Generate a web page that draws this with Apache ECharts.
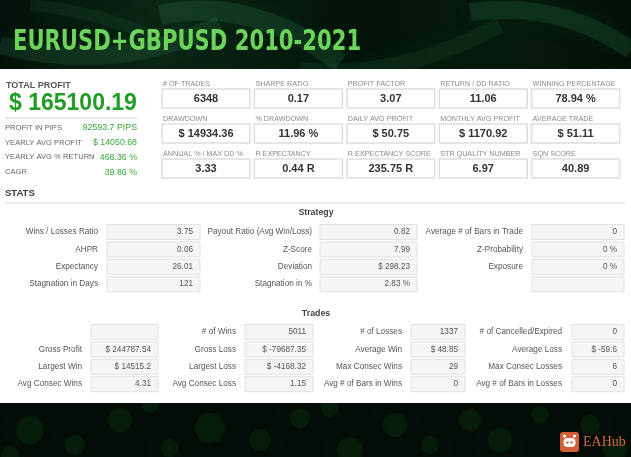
<!DOCTYPE html>
<html><head><meta charset="utf-8">
<script src="https://cdn.jsdelivr.net/npm/echarts@6/dist/echarts.min.js"></script>
<style>html,body{margin:0;padding:0;background:#03100a;}#c{width:631px;height:457px;}</style>
</head><body><div id="c"></div>
<script>
const titleText = 'EURUSD+GBPUSD 2010-2021';
const totalProfitLabel = 'TOTAL PROFIT';
const totalProfit = '$ 165100.19';
const summaryLabels = ['PROFIT IN PIPS','YEARLY AVG PROFIT','YEARLY AVG % RETURN','CAGR'];
const summaryValues = ['92593.7 PIPS','$ 14050.68','468.36 %','39.86 %'];
const kpiLabels = ['# OF TRADES','SHARPE RATIO','PROFIT FACTOR','RETURN / DD RATIO','WINNING PERCENTAGE',
  'DRAWDOWN','% DRAWDOWN','DAILY AVG PROFIT','MONTHLY AVG PROFIT','AVERAGE TRADE',
  'ANNUAL % / MAX DD %','R EXPECTANCY','R EXPECTANCY SCORE','STR QUALITY NUMBER','SQN SCORE'];
const kpiValues = ['6348','0.17','3.07','11.06','78.94 %',
  '$ 14934.36','11.96 %','$ 50.75','$ 1170.92','$ 51.11',
  '3.33','0.44 R','235.75 R','6.97','40.89'];
const strategyLabels = [
  ['Wins / Losses Ratio','Payout Ratio (Avg Win/Loss)','Average # of Bars in Trade'],
  ['AHPR','Z-Score','Z-Probability'],
  ['Expectancy','Deviation','Exposure'],
  ['Stagnation in Days','Stagnation in %','']];
const strategyValues = [
  ['3.75','0.82','0'],
  ['0.06','7.99','0 %'],
  ['26.01','$ 298.23','0 %'],
  ['121','2.83 %','']];
const tradesLabels = [
  ['','# of Wins','# of Losses','# of Cancelled/Expired'],
  ['Gross Profit','Gross Loss','Average Win','Average Loss'],
  ['Largest Win','Largest Loss','Max Consec Wins','Max Consec Losses'],
  ['Avg Consec Wins','Avg Consec Loss','Avg # of Bars in Wins','Avg # of Bars in Losses']];
const tradesValues = [
  ['','5011','1337','0'],
  ['$ 244787.54','$ -79687.35','$ 48.85','$ -59.6'],
  ['$ 14515.2','$ -4168.32','29','6'],
  ['4.31','1.15','0','0']];

const F = 'Liberation Sans, Arial, sans-serif';
const els = [];
function txt(x, y, text, size, fill, align, weight, family) {
  els.push({type:'text', x:x, y:y, silent:true, style:{text:text, font:(weight||'normal')+' '+size+'px '+(family||F), fill:fill, align:align||'left', verticalAlign:'middle'}});
}
function rect(x, y, w, h, fill, stroke, lw) {
  els.push({type:'rect', silent:true, shape:{x:x, y:y, width:w, height:h}, style:{fill:fill, stroke:stroke||null, lineWidth:lw||0}});
}

// background
rect(0, 0, 631, 457, '#020b05');
// top glow
els.push({type:'rect', silent:true, shape:{x:0,y:0,width:631,height:70}, style:{fill:{type:'linear',x:0,y:0,x2:1,y2:0,colorStops:[{offset:0,color:'#03120a'},{offset:0.25,color:'#0a2515'},{offset:0.55,color:'#03140a'},{offset:0.8,color:'#06190d'},{offset:1,color:'#031108'}]}}});
const waves = [
  [0,45,220,25,110,75,'rgba(60,150,100,0.16)',18],
  [160,15,340,62,250,-5,'rgba(60,150,100,0.18)',20],
  [300,70,500,25,400,80,'rgba(50,140,90,0.12)',16],
  [470,12,631,50,560,0,'rgba(60,160,110,0.16)',18],
  [30,5,150,35,90,10,'rgba(40,120,80,0.12)',12]
];
waves.forEach(function(w){
  els.push({type:'bezierCurve', silent:true, shape:{x1:w[0],y1:w[1],x2:w[2],y2:w[3],cpx1:w[4],cpy1:w[5]}, style:{stroke:w[6], lineWidth:w[7], fill:null, shadowBlur:25, shadowColor:'rgba(70,180,110,0.35)'}});
});
// bottom bokeh
const bokeh = [[30,430,14],[75,445,10],[120,420,12],[170,448,9],[210,428,15],[260,440,11],[300,418,10],[350,450,13],[395,425,12],[430,445,9],[470,420,11],[500,440,12],[540,415,9],[590,425,10],[615,450,12],[10,455,9],[150,405,8],[330,408,9]];
bokeh.forEach(function(b){
  els.push({type:'circle', silent:true, shape:{cx:b[0],cy:b[1],r:b[2]}, style:{fill:'rgba(20,100,35,0.16)', shadowBlur:12, shadowColor:'rgba(20,110,40,0.35)'}});
});
// title
els.push({type:'text', x:13, y:42, scaleX:0.81, silent:true, style:{text:titleText, font:'bold 29px "Liberation Sans Narrow", "DejaVu Sans Condensed", "DejaVu Sans", sans-serif', fill:'#6cd45a', verticalAlign:'middle'}});
// white panel
rect(0, 69, 631, 334, '#ffffff');

// total profit block
txt(6, 86, totalProfitLabel, 9, '#555', 'left', 'bold');
txt(9, 104, totalProfit, 23, '#1f9e23', 'left', 'bold');
rect(5, 117.5, 132, 1, '#cfcfcf');
summaryLabels.forEach(function(l, i){
  const y = 128 + i*14.7;
  txt(5, y, l, 7.6, '#666');
  txt(137, y, summaryValues[i], 8.8, '#3aa83a', 'right');
});

// KPI grid
const kx0 = 162, kpitch = 92.4, kw = 88, ky0 = 89, krow = 35, kh = 19;
kpiLabels.forEach(function(l, i){
  const c = i % 5, r = Math.floor(i / 5);
  const x = kx0 + c*kpitch, y = ky0 + r*krow;
  txt(x+1, y-5, l, 7.2, '#8a8a8a');
  rect(x, y, kw, kh, '#ffffff', '#dedede', 1.5);
  txt(x + kw/2, y + kh/2 + 0.5, kpiValues[i], 11, '#333', 'center', 'bold');
});

// STATS
txt(5, 193, 'STATS', 9.5, '#3a3a3a', 'left', 'bold');
rect(5, 202, 620, 1.5, '#e6e6e6');
txt(316, 213, 'Strategy', 8.8, '#444', 'center', 'bold');
const sLabelX = [98, 312, 523];
const sBox = [[107, 93], [320, 97], [532, 92]];
strategyLabels.forEach(function(row, r){
  const y = 232 + r*17.4;
  row.forEach(function(l, c){
    txt(sLabelX[c], y, l, 8.2, '#555', 'right');
    rect(sBox[c][0], y-7.5, sBox[c][1], 15, '#f5f5f5', '#e2e2e2', 1);
    txt(sBox[c][0] + sBox[c][1] - 7, y, strategyValues[r][c], 8.2, '#555', 'right');
  });
});

txt(316, 314, 'Trades', 8.8, '#444', 'center', 'bold');
const tLabelX = [82, 236, 402, 562];
const tBox = [[91, 67], [245, 68], [411, 54], [572, 52]];
tradesLabels.forEach(function(row, r){
  const y = 332 + r*17.4;
  row.forEach(function(l, c){
    txt(tLabelX[c], y, l, 8.2, '#555', 'right');
    rect(tBox[c][0], y-7.5, tBox[c][1], 15, '#f5f5f5', '#e2e2e2', 1);
    txt(tBox[c][0] + tBox[c][1] - 7, y, tradesValues[r][c], 8.2, '#555', 'right');
  });
});

// logo
els.push({type:'rect', silent:true, shape:{x:560,y:432,width:19,height:20,r:3}, style:{fill:'#d35f3a'}});
els.push({type:'rect', silent:true, shape:{x:563.5,y:438,width:12,height:9,r:4}, style:{fill:'#ffffff'}});
els.push({type:'circle', silent:true, shape:{cx:564.5,cy:436,r:1.6}, style:{fill:'#ffffff'}});
els.push({type:'circle', silent:true, shape:{cx:574.5,cy:436,r:1.6}, style:{fill:'#ffffff'}});
els.push({type:'circle', silent:true, shape:{cx:567.5,cy:442.5,r:1.2}, style:{fill:'#d35f3a'}});
els.push({type:'circle', silent:true, shape:{cx:571.5,cy:442.5,r:1.2}, style:{fill:'#d35f3a'}});
txt(583, 442, 'EAHub', 14, '#d8653f', 'left', 'normal', '"Liberation Serif", "DejaVu Serif", serif');

const chart = echarts.init(document.getElementById('c'), null, {renderer:'canvas'});
chart.setOption({animation:false, graphic:{elements:els}});
</script></body></html>
